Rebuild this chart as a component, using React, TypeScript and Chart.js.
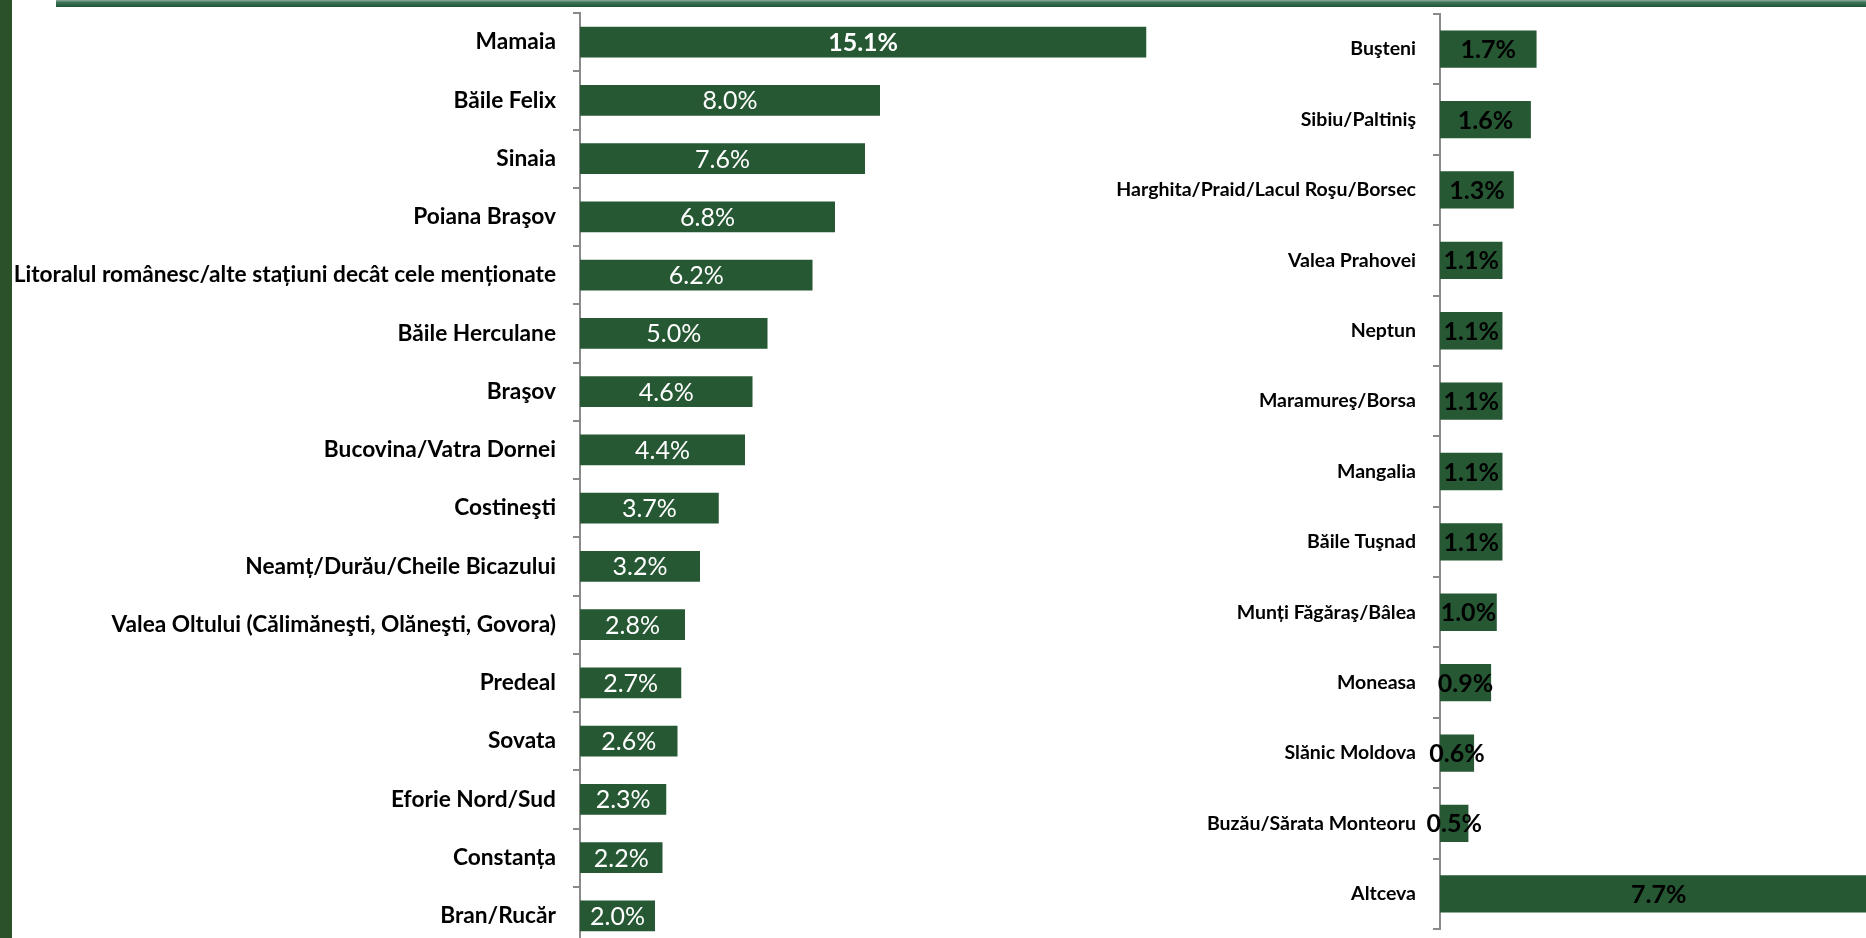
import React, { useEffect, useRef } from "react";
import { Chart, registerables } from "chart.js";

Chart.register(...registerables);

const leftCategories = [
  "Mamaia",
  "Băile Felix",
  "Sinaia",
  "Poiana Braşov",
  "Litoralul românesc/alte stațiuni decât cele menționate",
  "Băile Herculane",
  "Braşov",
  "Bucovina/Vatra Dornei",
  "Costineşti",
  "Neamț/Durău/Cheile Bicazului",
  "Valea Oltului (Călimăneşti, Olăneşti, Govora)",
  "Predeal",
  "Sovata",
  "Eforie Nord/Sud",
  "Constanța",
  "Bran/Rucăr",
];
const leftValues = [15.1, 8.0, 7.6, 6.8, 6.2, 5.0, 4.6, 4.4, 3.7, 3.2, 2.8, 2.7, 2.6, 2.3, 2.2, 2.0];

const rightCategories = [
  "Buşteni",
  "Sibiu/Paltiniş",
  "Harghita/Praid/Lacul Roşu/Borsec",
  "Valea Prahovei",
  "Neptun",
  "Maramureş/Borsa",
  "Mangalia",
  "Băile Tuşnad",
  "Munți Făgăraş/Bâlea",
  "Moneasa",
  "Slănic Moldova",
  "Buzău/Sărata Monteoru",
  "Altceva",
];
const rightValues = [1.7, 1.6, 1.3, 1.1, 1.1, 1.1, 1.1, 1.1, 1.0, 0.9, 0.6, 0.5, 7.7];

const BAR_COLOR = "#265833";
const AXIS_COLOR = "#8a8a8a";
const FONT = "Lato";

function makeLabelPlugin(color: string, weightFor: (i: number) => string, size: number) {
  return {
    id: "valueLabels",
    afterDatasetsDraw(chart: any) {
      const ctx = chart.ctx;
      const meta = chart.getDatasetMeta(0);
      const data = chart.data.datasets[0].data as number[];
      ctx.save();
      meta.data.forEach((bar: any, i: number) => {
        const p = bar.getProps(["x", "y", "base"], true);
        ctx.font = `${weightFor(i)} ${size}px ${FONT}`;
        ctx.fillStyle = color;
        ctx.textAlign = "center";
        ctx.textBaseline = "middle";
        ctx.fillText(data[i].toFixed(1) + "%", (p.x + p.base) / 2, p.y + 1);
      });
      ctx.restore();
    },
  };
}

function makeConfig(
  labels: string[],
  values: number[],
  max: number,
  axisWidth: number,
  padTop: number,
  padBottom: number,
  tickFontSize: number,
  plugin: any
): any {
  return {
    type: "bar",
    data: {
      labels,
      datasets: [
        {
          data: values,
          backgroundColor: BAR_COLOR,
          borderWidth: 0,
          barPercentage: 0.53,
          categoryPercentage: 1,
        },
      ],
    },
    options: {
      indexAxis: "y",
      responsive: false,
      animation: false,
      devicePixelRatio: 1,
      layout: { padding: { top: padTop, bottom: padBottom, left: 0, right: 0 } },
      plugins: { legend: { display: false }, tooltip: { enabled: false }, title: { display: false } },
      scales: {
        x: { display: false, min: 0, max },
        y: {
          afterFit: (scale: any) => {
            scale.width = axisWidth;
            scale.paddingTop = 0;
            scale.paddingBottom = 0;
          },
          grid: {
            display: true,
            drawOnChartArea: false,
            drawTicks: true,
            tickLength: 7,
            color: AXIS_COLOR,
            lineWidth: 2,
            offset: true,
          },
          border: { display: true, color: AXIS_COLOR, width: 2 },
          ticks: {
            color: "#000",
            padding: 17,
            autoSkip: false,
            font: { family: FONT, weight: "bold", size: tickFontSize },
          },
        },
      },
    },
    plugins: [plugin],
  };
}

function ChartCanvas(props: { width: number; height: number; left: number; config: () => any }) {
  const ref = useRef<HTMLCanvasElement | null>(null);
  useEffect(() => {
    if (!ref.current) return;
    const chart = new Chart(ref.current, props.config());
    return () => chart.destroy();
  }, []);
  return (
    <canvas
      ref={ref}
      width={props.width}
      height={props.height}
      style={{ position: "absolute", left: props.left, top: 0, width: props.width, height: props.height }}
    />
  );
}

export default function App() {
  return (
    <div
      style={{
        position: "fixed",
        left: 0,
        top: 0,
        width: 1866,
        height: 938,
        overflow: "hidden",
        background: "#fff",
      }}
    >
      <ChartCanvas
        left={0}
        width={1180}
        height={952}
        config={() =>
          makeConfig(
            leftCategories,
            leftValues,
            16,
            580,
            13,
            7,
            22.7,
            makeLabelPlugin("#ffffff", (i) => (i === 0 ? "bold" : "normal"), 25)
          )
        }
      />
      <ChartCanvas
        left={1060}
        width={806}
        height={938}
        config={() =>
          makeConfig(
            rightCategories,
            rightValues,
            7.5,
            380,
            14,
            9,
            19.5,
            makeLabelPlugin("#000000", () => "bold", 25)
          )
        }
      />
      <div style={{ position: "absolute", left: 0, top: 0, width: 12, height: 938, background: "#2b5128" }} />
      <div
        style={{
          position: "absolute",
          left: 56,
          top: 0,
          width: 1810,
          height: 7,
          background: "linear-gradient(to bottom, #8fae9d 0%, #3f7459 35%, #1d5538 100%)",
        }}
      />
    </div>
  );
}
